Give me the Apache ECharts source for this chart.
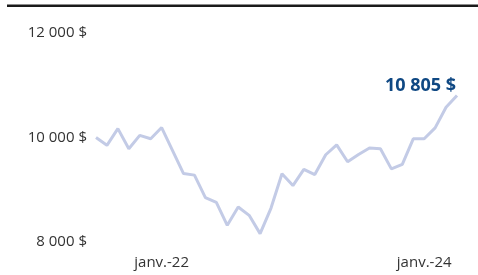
<!DOCTYPE html>
<html>
<head>
<meta charset="utf-8">
<script src="https://cdn.jsdelivr.net/npm/echarts@6/dist/echarts.min.js"></script>
<style>
  html, body { margin: 0; padding: 0; background: #fff; }
  #chart { width: 478px; height: 275px; }
</style>
</head>
<body>
<div id="chart"></div>
<script>
  // mois, de juillet 2021 à avril 2024
  let months = [
    'juil.-21', 'août-21', 'sept.-21', 'oct.-21', 'nov.-21', 'déc.-21',
    'janv.-22', 'févr.-22', 'mars-22', 'avr.-22', 'mai-22', 'juin-22',
    'juil.-22', 'août-22', 'sept.-22', 'oct.-22', 'nov.-22', 'déc.-22',
    'janv.-23', 'févr.-23', 'mars-23', 'avr.-23', 'mai-23', 'juin-23',
    'juil.-23', 'août-23', 'sept.-23', 'oct.-23', 'nov.-23', 'déc.-23',
    'janv.-24', 'févr.-24', 'mars-24', 'avr.-24'
  ]
  // valeur du placement ($)
  let values = [
    10000, 9850, 10170, 9785, 10040, 9975,
    10190, 9750, 9310, 9280, 8850, 8760,
    8320, 8670, 8510, 8160, 8650, 9305,
    9080, 9390, 9290, 9670, 9860, 9535,
    9675, 9800, 9785, 9400, 9485, 9975,
    9975, 10185, 10580, 10805
  ]
  let shownLabels = ['janv.-22', 'janv.-24']
  let yTicks = [8000, 10000, 12000]

  let font = '"Open Sans", "Noto Sans", sans-serif'
  let fmt = v => String(v).replace(/\B(?=(\d{3})+(?!\d))/g, ' ') + ' $'

  let chart = echarts.init(document.getElementById('chart'))
  chart.setOption({
    animation: false,
    grid: { left: 96, right: 21, top: 33, bottom: 33 },
    graphic: [{
      type: 'rect',
      shape: { x: 7, y: 4.5, width: 471, height: 2.5 },
      style: { fill: '#1a1a1a' }
    }],
    xAxis: {
      type: 'category',
      data: months,
      boundaryGap: false,
      axisLine: { show: false },
      axisTick: { show: false },
      axisLabel: {
        interval: (i, name) => shownLabels.indexOf(name) >= 0,
        margin: 13,
        color: '#333',
        fontFamily: font,
        fontSize: 15
      }
    },
    yAxis: {
      type: 'value',
      min: yTicks[0],
      max: yTicks[yTicks.length - 1],
      interval: 2000,
      axisLine: { show: false },
      axisTick: { show: false },
      splitLine: { show: false },
      axisLabel: {
        margin: 9,
        color: '#333',
        fontFamily: font,
        fontSize: 15,
        formatter: fmt
      }
    },
    series: [{
      type: 'line',
      data: values,
      showSymbol: false,
      lineStyle: { color: '#c3cbe6', width: 3 },
      endLabel: {
        show: true,
        formatter: p => fmt(p.value),
        align: 'right',
        offset: [-9, -10],
        color: '#0f4883',
        fontFamily: font,
        fontWeight: 'bold',
        fontSize: 18
      }
    }]
  })
</script>
</body>
</html>
